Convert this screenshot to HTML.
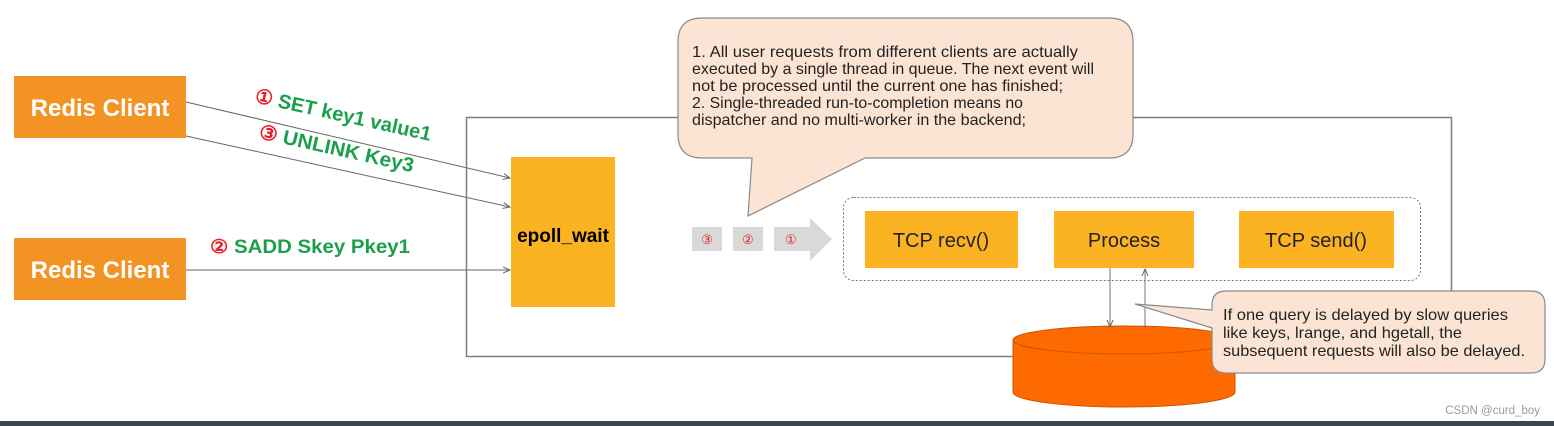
<!DOCTYPE html>
<html><head><meta charset="utf-8"><style>
html,body{margin:0;padding:0;background:#fff;}
svg{display:block;font-family:"Liberation Sans",sans-serif;}
</style></head><body>
<svg width="1554" height="426" viewBox="0 0 1554 426" xmlns="http://www.w3.org/2000/svg">
<defs>
<marker id="a" markerWidth="8" markerHeight="8" refX="7" refY="4" orient="auto" markerUnits="userSpaceOnUse">
<path d="M0,1 L7,4 L0,7" fill="none" stroke="#666" stroke-width="1"/></marker>
</defs>
<rect width="1554" height="426" fill="#fff"/>
<rect x="466.5" y="117.5" width="985" height="239" fill="none" stroke="#7f7f7f" stroke-width="1.5"/>
<rect x="14" y="76" width="172" height="62" fill="#f39323"/>
<text x="100" y="116" text-anchor="middle" font-size="24" font-weight="bold" fill="#fff">Redis Client</text>
<rect x="14" y="238" width="172" height="62" fill="#f39323"/>
<text x="100" y="278" text-anchor="middle" font-size="24" font-weight="bold" fill="#fff">Redis Client</text>
<line x1="186" y1="102" x2="510" y2="178" stroke="#666" stroke-width="1" marker-end="url(#a)"/>
<line x1="186" y1="136" x2="510" y2="207" stroke="#666" stroke-width="1" marker-end="url(#a)"/>
<line x1="186" y1="270" x2="510" y2="270" stroke="#666" stroke-width="1" marker-end="url(#a)"/>
<g transform="translate(254,102) rotate(12.5)" font-size="20" font-weight="bold">
<text x="0" y="0" textLength="180" lengthAdjust="spacingAndGlyphs"><tspan fill="#e8202a">①</tspan><tspan fill="#1aa04a"> SET key1 value1</tspan></text></g>
<g transform="translate(258,138) rotate(12.5)" font-size="20" font-weight="bold">
<text x="0" y="0" textLength="158" lengthAdjust="spacingAndGlyphs"><tspan fill="#e8202a">③</tspan><tspan fill="#1aa04a"> UNLINK Key3</tspan></text></g>
<text x="210" y="253" font-size="19" font-weight="bold" textLength="200" lengthAdjust="spacingAndGlyphs"><tspan fill="#e8202a">②</tspan><tspan fill="#1aa04a"> SADD Skey Pkey1</tspan></text>
<rect x="511" y="157" width="104" height="150" fill="#fbb321"/>
<text x="563" y="242" text-anchor="middle" font-size="19" font-weight="bold" fill="#000">epoll_wait</text>
<rect x="692" y="227" width="30" height="24" fill="#d9d9d9"/>
<text x="707" y="244" text-anchor="middle" font-size="13" fill="#e8202a">③</text>
<rect x="733" y="227" width="30" height="24" fill="#d9d9d9"/>
<text x="748" y="244" text-anchor="middle" font-size="13" fill="#e8202a">②</text>
<path d="M774,227 L810,227 L810,218 L832,239 L810,261 L810,251 L774,251 Z" fill="#d9d9d9"/>
<text x="791" y="244" text-anchor="middle" font-size="13" fill="#e8202a">①</text>
<rect x="843.5" y="197.5" width="577" height="83" rx="10" fill="none" stroke="#777" stroke-width="1" stroke-dasharray="2,2"/>
<rect x="865" y="211" width="153" height="57" fill="#fbb321"/>
<text x="941" y="247" text-anchor="middle" font-size="20" fill="#222">TCP recv()</text>
<rect x="1054" y="211" width="140" height="57" fill="#fbb321"/>
<text x="1124" y="247" text-anchor="middle" font-size="20" fill="#222">Process</text>
<rect x="1239" y="211" width="155" height="57" fill="#fbb321"/>
<text x="1316" y="247" text-anchor="middle" font-size="20" fill="#222">TCP send()</text>
<path d="M1013,340 L1013,392 A111,15 0 0 0 1235,392 L1235,340 Z" fill="#ff6a00" stroke="#cc5500" stroke-width="1"/>
<ellipse cx="1124" cy="340" rx="111" ry="14" fill="#ff6a00" stroke="#cc5500" stroke-width="1"/>
<line x1="1110" y1="268" x2="1110" y2="327" stroke="#777" stroke-width="1" marker-end="url(#a)"/>
<line x1="1145" y1="328" x2="1145" y2="269" stroke="#777" stroke-width="1" marker-end="url(#a)"/>
<path d="M702,18 L1109,18 Q1133,18 1133,42 L1133,134 Q1133,158 1109,158 L865,158 L748,216 L752,158 L702,158 Q678,158 678,134 L678,42 Q678,18 702,18 Z" fill="#fce4d4" stroke="#8a8a8a" stroke-width="1.2"/>
<g font-size="16" fill="#222">
<text x="692" y="57" textLength="386" lengthAdjust="spacingAndGlyphs">1. All user requests from different clients are actually</text>
<text x="692" y="74" textLength="402" lengthAdjust="spacingAndGlyphs">executed by a single thread in queue. The next event will</text>
<text x="692" y="91" textLength="371" lengthAdjust="spacingAndGlyphs">not be processed until the current one has finished;</text>
<text x="692" y="108" textLength="331" lengthAdjust="spacingAndGlyphs">2. Single-threaded run-to-completion means no</text>
<text x="692" y="125" textLength="334" lengthAdjust="spacingAndGlyphs">dispatcher and no multi-worker in the backend;</text>
</g>
<path d="M1226,291 L1531,291 Q1545,291 1545,305 L1545,359 Q1545,373 1531,373 L1226,373 Q1212,373 1212,359 L1212,328 L1135,304 L1212,310 L1212,305 Q1212,291 1226,291 Z" fill="#fce4d4" stroke="#8a8a8a" stroke-width="1.2"/>
<g font-size="16" fill="#222">
<text x="1223" y="320" textLength="285" lengthAdjust="spacingAndGlyphs">If one query is delayed by slow queries</text>
<text x="1223" y="338" textLength="239" lengthAdjust="spacingAndGlyphs">like keys, lrange, and hgetall, the</text>
<text x="1223" y="356" textLength="302" lengthAdjust="spacingAndGlyphs">subsequent requests will also be delayed.</text>
</g>
<text x="1540" y="414" text-anchor="end" font-size="11.5" fill="#999">CSDN @curd_boy</text>
<rect x="0" y="421" width="1554" height="5" fill="#3b4552"/>
</svg>
</body></html>
